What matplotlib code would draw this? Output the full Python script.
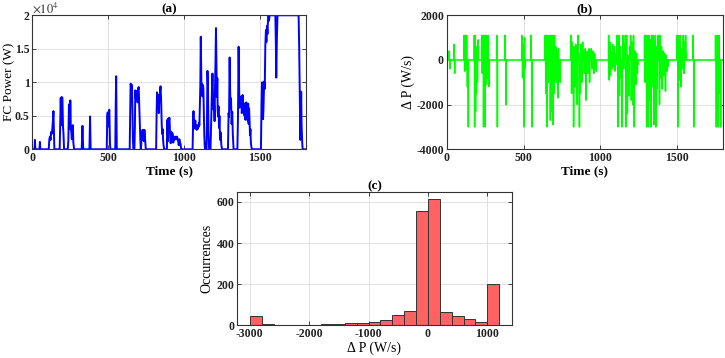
import numpy as np
import matplotlib
matplotlib.use("Agg")
import matplotlib.pyplot as plt

plt.rcParams['font.family'] = ['Liberation Serif', 'DejaVu Serif']
plt.rcParams['mathtext.fontset'] = 'stix'
plt.rcParams['font.size'] = 8
plt.rcParams['axes.unicode_minus'] = False

# (a) fuel cell power vs time, vertices (s, W)
fc_time = [0, 14, 17, 20, 47, 50, 53,
           108, 112, 116, 120, 124, 128, 131, 135, 139, 142, 145,
           180, 184, 187, 190, 194, 198, 202, 205, 209,
           233, 237, 241, 244, 247, 250, 253, 256, 260, 264, 267, 270, 275,
           325, 330, 335, 376, 380, 384,
           490, 493, 496, 499, 503, 507, 511, 514,
           546, 549, 552, 556,
           641, 644, 647, 650, 653, 656, 659, 662, 665,
           672, 675, 678, 681, 684, 687, 690, 693, 696, 700, 704, 708, 711, 714,
           717, 720, 723, 726, 729, 732, 735, 738, 741, 744, 747,
           815, 818, 821, 824, 827, 830, 833, 836, 840, 844, 848, 852, 855, 858, 861, 864, 868,
           886, 889, 892, 895, 898, 903, 907, 911, 915, 919, 922, 925, 928, 932, 936, 940,
           944, 948, 952, 956, 960, 964, 968, 972, 976, 980,
           1055, 1058, 1061, 1064, 1067, 1070, 1073, 1076, 1079, 1082, 1085, 1088, 1091,
           1094, 1097, 1100, 1103, 1106, 1109, 1112, 1114, 1117, 1120, 1123, 1126, 1129,
           1132, 1135, 1138, 1141, 1144, 1147, 1150, 1153, 1156, 1160, 1164, 1167, 1170,
           1173, 1177, 1182, 1186, 1190, 1194, 1197, 1200, 1203, 1206, 1209, 1212, 1215,
           1218, 1220, 1223, 1226, 1229, 1232, 1236, 1240, 1244, 1249,
           1288, 1292, 1295, 1299, 1302, 1305, 1308, 1312, 1316, 1320, 1325,
           1350, 1354, 1358, 1361, 1364, 1367, 1370, 1373, 1376, 1379, 1382, 1385, 1388,
           1391, 1394, 1397, 1400, 1403, 1406, 1409, 1412, 1415, 1418, 1421, 1424, 1427,
           1430, 1433, 1436, 1439, 1442, 1446,
           1505, 1509, 1512, 1516, 1519, 1522, 1526, 1530, 1534, 1538, 1541, 1545, 1548,
           1551, 1555, 1558, 1562, 1565, 1600, 1603, 1606, 1610, 1614, 1621,
           1753, 1757, 1761, 1764, 1767, 1770, 1773, 1777, 1780, 1800]
fc_power = [0, 0, 1400, 0, 0, 1100, 0,
            0, 1500, 1900, 1400, 2600, 2300, 2900, 4100, 5700, 3000, 0,
            0, 4800, 7700, 3600, 7800, 7700, 3300, 2400, 0,
            0, 1200, 6700, 4600, 3000, 7300, 3600, 2700, 1500, 3500, 3600, 1000, 0,
            0, 3500, 0, 0, 4900, 0,
            0, 4800, 5500, 3400, 5300, 5900, 1000, 0,
            0, 6600, 10900, 0,
            0, 4400, 9800, 9500, 8200, 9600, 6200, 1800, 0,
            0, 3000, 8800, 7600, 8500, 8200, 8700, 7000, 8900, 9300, 6400, 3000, 1500, 0,
            800, 2600, 1400, 2900, 1800, 2800, 1200, 2900, 2000, 900, 0,
            0, 5000, 8500, 7200, 8100, 6800, 5400, 7800, 8400, 9400, 7300, 3600, 2300, 3000, 1400, 600, 0,
            0, 4400, 1200, 4600, 4300, 4700, 2100, 900, 2600, 1500, 2400, 2000, 1000, 1800,
            1400, 1900, 1700, 1500, 1900, 1600, 1200, 600, 1500, 1000, 800, 0,
            0, 3400, 5700, 3100, 3800, 3300, 4300, 3100, 3600, 2900, 3500, 3000, 3600,
            3300, 3900, 3600, 6500, 9600, 16800, 12000, 8200, 9800, 7900, 9600, 9200, 6000,
            2200, 500, 0, 900, 0, 0, 4800, 11700, 9400, 2400, 0, 0, 0,
            0, 4000, 8300, 11300, 7600, 5900, 6500, 4200, 9600, 13200, 18100, 12400, 7800,
            10600, 6000, 4900, 6400, 3200, 5000, 1400, 2500, 700, 0,
            0, 5400, 4800, 13700, 9000, 6000, 7600, 3800, 5600, 2200, 0,
            0, 4900, 15300, 9800, 6200, 6800, 7800, 6300, 7900, 5400, 6100, 8100, 6200,
            6900, 5400, 5000, 6000, 4400, 6300, 7000, 5200, 6100, 4300, 6800, 3800, 6100,
            4400, 2100, 3000, 900, 400, 0,
            0, 6500, 10000, 6800, 4500, 6200, 10100, 9000, 15500, 17800, 16000, 18400, 17200,
            19000, 20000, 19200, 20000, 20000, 20000, 16000, 10700, 16500, 20000, 20000,
            20000, 15000, 8000, 1400, 4000, 8600, 3500, 900, 0, 0]

# (b) power rate spikes (s, W/s)
dp_time = [17, 20, 48, 52,
           113, 117, 121, 126, 130, 135, 141, 180, 182, 185, 188, 191, 194, 197, 200, 205,
           228, 232, 237, 240, 243, 246, 250, 253, 256, 259, 262, 265, 268, 271, 274,
           326, 330, 380, 387,
           489, 494, 499, 503, 507, 511, 548, 554,
           641, 645, 649, 653, 657, 661, 670, 675, 679, 684, 688, 692, 695, 699, 702,
           706, 710, 715, 720, 724, 728, 734, 739,
           809, 813, 817, 821, 826, 830, 835, 840, 845, 850, 855, 859, 864, 870, 875, 880,
           885, 891, 896, 902, 906, 911, 916, 921, 926, 930, 935, 941, 947, 952, 958, 963,
           968, 974,
           1054, 1058, 1062, 1066, 1070, 1075, 1080, 1085, 1090, 1095, 1100, 1105, 1109,
           1114, 1120, 1125, 1130, 1136, 1141, 1146, 1152, 1157, 1163, 1167, 1171, 1176,
           1181, 1186, 1191, 1197, 1202, 1206, 1211, 1216, 1221, 1226, 1231, 1236, 1241,
           1246,
           1288, 1292, 1297, 1302, 1307, 1312, 1317, 1321, 1326, 1330, 1334, 1339, 1343,
           1348, 1353, 1358, 1361, 1366, 1370, 1375, 1380, 1385, 1390, 1394, 1398, 1403,
           1408, 1413, 1418, 1424, 1429, 1434, 1440,
           1500, 1505, 1511, 1516, 1520, 1525, 1530, 1535, 1540, 1545, 1550, 1555, 1560,
           1604, 1609,
           1750, 1755, 1761, 1766, 1772, 1778, 1783]
dp_value = [400, -400, 700, -600,
            1100, -500, 1100, -400, 1100, -1200, -3000, 1100, -3000, 1100, -2300, 600, -1500,
            500, -1000, 900,
            1100, -600, 1100, -3000, 1100, -2100, -3000, 1100, 1100, -1100, 500, -800, 1100,
            -500, -1200,
            1100, -3000, 1100, -2000,
            1100, -800, 700, -3000, 1000, -400, 1100, -3000,
            1100, -1500, 1100, -3000, 1100, -1000, 1100, -2700, 1100, -2300, 1100, -2900,
            1100, -1500, 1100, -900, 600, -1000, 400, -1700, 500, -800, -1000,
            1100, -1500, 800, 400, -3000, 600, -1200, 700, 300, -2000, 1100, 300, -3000,
            -1500, 700, -1000, 800, 200, -600, 500, -1800, 300, 400, -600, 500, -1000, 300,
            500, -400, 400, -600, 300, -200, -500,
            1100, -900, 800, -700, 400, -400, 700, -300, 600, -500, 300, -200, 1100,
            -3000, 1100, -1600, 600, -800, -3000, 1100, -400, 700, 1100, -3000, 1100, -2400,
            200, -1600, 600, 1100, -1800, 800, -2000, 1100, -3000, 400, -1100, 300, -600,
            -200,
            1100, -1000, 1100, -3000, 1100, -3000, 1100, -1800, 900, -3000, 1100, -1200,
            1100, -2900, 800, 1100, -3000, 600, -1300, 1100, 300, -2000, 1100, -800, 600,
            -1300, 400, -700, 300, -1400, 200, -500, -300,
            1100, -3000, 1100, -900, 1100, -1200, 500, -400, 1100, -600, 800, 1100, 300,
            1100, -3000,
            1100, -3000, 1100, -3000, 1100, -1500, -3000]

# (c) histogram of the power rate
bin_edges = np.arange(-3000, 1201, 200)
bin_counts = [45, 6, 1, 3, 2, 3, 7, 6, 12, 10, 18, 25, 50, 72, 556, 616, 64, 46, 29, 16, 200]

# build the spike trace around a zero baseline
spike_t, spike_v = [0], [0]
for t, v in zip(dp_time, dp_value):
    spike_t += [t - 1, t, t + 1]
    spike_v += [0, v, 0]
spike_t.append(1800)
spike_v.append(0)

fig = plt.figure(figsize=(7.25, 3.58), dpi=100)
ax_a = fig.add_axes([0.0446, 0.583, 0.3771, 0.3743])
ax_b = fig.add_axes([0.6161, 0.583, 0.3815, 0.3743])
ax_c = fig.add_axes([0.3273, 0.0913, 0.3785, 0.3732])

LBL = 9.5


def matlab_style(ax):
    ax.grid(True, color='#dcdcdc', linewidth=0.6)
    ax.set_axisbelow(True)
    for s in ax.spines.values():
        s.set_color('#333333')
        s.set_linewidth(0.8)
    ax.tick_params(direction='in', length=3, width=0.6, top=True, right=True,
                   labelsize=8.5, pad=2, colors='#222222')
    for lab in ax.get_xticklabels() + ax.get_yticklabels():
        lab.set_fontweight('bold')


ax_a.plot(fc_time, fc_power, color='#0000ff', linewidth=1.4)
ax_a.set_xlim(0, 1800)
ax_a.set_ylim(0, 20000)
ax_a.set_xticks([0, 500, 1000, 1500])
ax_a.set_yticks([0, 5000, 10000, 15000, 20000])
ax_a.set_yticklabels(['0', '0.5', '1', '1.5', '2'])
ax_a.text(0.0, 1.0, r'$\times 10^{4}$', transform=ax_a.transAxes, ha='left', va='bottom',
          fontsize=9, color='#333333')
ax_a.set_title('(a)', fontweight='bold', fontsize=LBL, pad=2)
ax_a.set_xlabel('Time (s)', fontweight='bold', fontsize=LBL, labelpad=1)
ax_a.set_ylabel('FC Power (W)', fontsize=9.5)
ax_a.yaxis.set_label_coords(-0.062, 0.5)
matlab_style(ax_a)

ax_b.plot(spike_t, spike_v, color='#00ff00', linewidth=1.1)
ax_b.set_xlim(0, 1800)
ax_b.set_ylim(-4000, 2000)
ax_b.set_xticks([0, 500, 1000, 1500])
ax_b.set_yticks([-4000, -2000, 0, 2000])
ax_b.set_title('(b)', fontweight='bold', fontsize=LBL, pad=2)
ax_b.set_xlabel('Time (s)', fontweight='bold', fontsize=LBL, labelpad=1)
ax_b.set_ylabel('Δ P (W/s)', fontsize=10, labelpad=1)
matlab_style(ax_b)

ax_c.hist(bin_edges[:-1], bins=bin_edges, weights=bin_counts,
          facecolor='#ff6262', edgecolor='#333333', linewidth=0.7)
ax_c.set_xlim(-3210, 1410)
ax_c.set_ylim(0, 650)
ax_c.set_xticks([-3000, -2000, -1000, 0, 1000])
ax_c.set_yticks([0, 200, 400, 600])
ax_c.set_title('(c)', fontweight='bold', fontsize=LBL, pad=2)
ax_c.set_xlabel('Δ P (W/s)', fontsize=10, labelpad=1)
ax_c.set_ylabel('Occurrences', fontsize=10, labelpad=2)
matlab_style(ax_c)

fig.savefig('out.png', dpi=100)
